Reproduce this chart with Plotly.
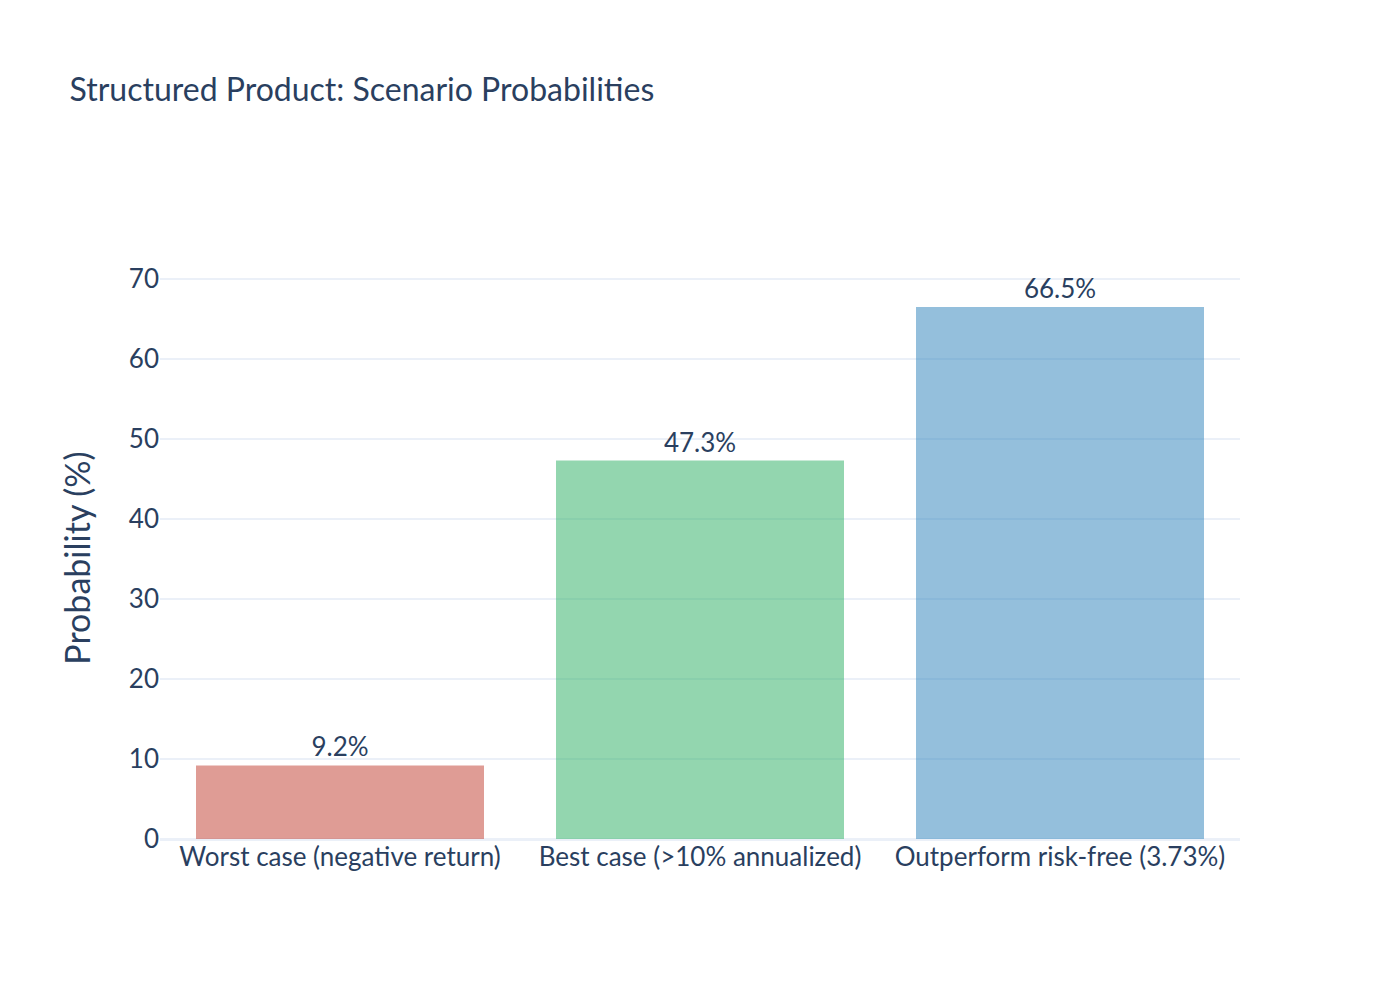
import plotly.graph_objects as go

categories = ["Worst case (negative return)", "Best case (>10% annualized)", "Outperform risk-free (3.73%)"]
probabilities = [9.2, 47.3, 66.5]
labels = ["9.2%", "47.3%", "66.5%"]
colors = ["#c0392b", "#27ae60", "#2980b9"]

fig = go.Figure(go.Bar(
    x=categories, y=probabilities, text=labels, textposition="outside",
    marker=dict(color=colors, opacity=0.5, line=dict(width=0)),
    textfont=dict(size=26, color="#2a3f5f"), cliponaxis=False,
))

fig.update_layout(
    template="plotly_white",
    width=1400, height=1000,
    font=dict(family="Source Sans Pro, Lato, sans-serif", color="#2a3f5f", size=26),
    title=dict(text="Structured Product: Scenario Probabilities", x=0.044, xanchor="left",
               y=0.918, yanchor="middle", yref="container", font=dict(size=32)),
    margin=dict(l=152, r=168, t=269, b=169),
    bargap=0.2,
    showlegend=False,
    yaxis=dict(title=dict(text="Probability (%)", font=dict(size=34), standoff=27), range=[0, 70.25],
               dtick=10, gridcolor="#ebf0f8", gridwidth=2, zeroline=True, zerolinecolor="#ebf0f8",
               zerolinewidth=3, tickfont=dict(size=26)),
    xaxis=dict(tickfont=dict(size=26)),
)

fig.write_html("out.html")
